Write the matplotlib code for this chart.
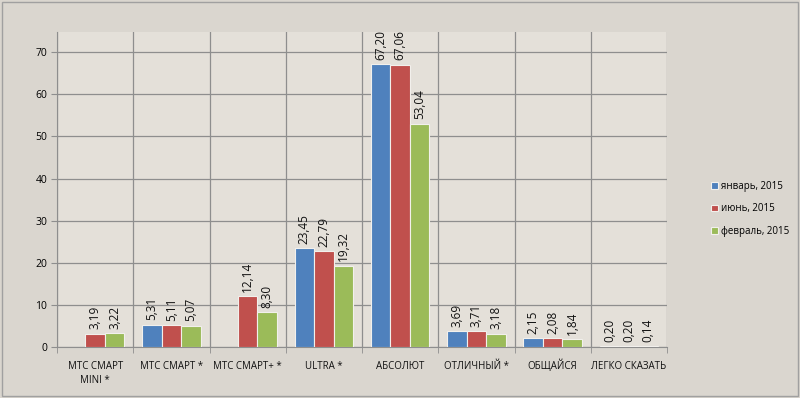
import numpy as np
import matplotlib
matplotlib.use("Agg")
import matplotlib.pyplot as plt

plt.rcParams['font.family'] = ['Open Sans', 'DejaVu Sans']

categories = ["МТС СМАРТ\nMINI *", "МТС СМАРТ *", "МТС СМАРТ+ *", "ULTRA *",
              "АБСОЛЮТ", "ОТЛИЧНЫЙ *", "ОБЩАЙСЯ", "ЛЕГКО СКАЗАТЬ"]
series_names = ["январь, 2015", "июнь, 2015", "февраль, 2015"]
jan = [np.nan, 5.31, np.nan, 23.45, 67.20, 3.69, 2.15, 0.20]
jun = [3.19, 5.11, 12.14, 22.79, 67.06, 3.71, 2.08, 0.20]
feb = [3.22, 5.07, 8.30, 19.32, 53.04, 3.18, 1.84, 0.14]
colors = ["#4F81BD", "#C0504D", "#9BBB59"]
yticks = [0, 10, 20, 30, 40, 50, 60, 70]

fig = plt.figure(figsize=(8, 3.98), dpi=100, facecolor="#DAD6CF")
ax = fig.add_axes([57/800, 1-347/398, (667-57)/800, (347-32)/398])
ax.set_facecolor("#E4E0D9")

x = np.arange(len(categories))
w = 0.255
for i, (vals, c, name) in enumerate(zip([jan, jun, feb], colors, series_names)):
    pos = x + (i - 1) * w
    ax.bar(pos, vals, width=w, color=c, edgecolor="#F2F0EC", linewidth=0.8,
           label=name, zorder=3)
    for p, v in zip(pos, vals):
        if np.isnan(v):
            continue
        ax.annotate(f"{v:.2f}".replace(".", ","), (p, v), xytext=(0, 3),
                    textcoords="offset points", rotation=90, ha="center",
                    va="bottom", fontsize=8.5, color="#111111")

ax.set_xlim(-0.5, len(categories) - 0.5)
ax.set_ylim(0, 74.8)
ax.set_yticks(yticks)
ax.set_yticklabels([str(t) for t in yticks], fontsize=7.5)
ax.set_xticks(x)
ax.set_xticklabels([""] * len(categories))
# category labels placed on a common baseline
for xi, lab in zip(x, categories):
    for j, line in enumerate(lab.split("\n")):
        ax.annotate(line, (xi, 0), xycoords=ax.get_xaxis_transform(),
                    xytext=(0, -15.8 - 10.1 * j), textcoords="offset points",
                    ha="center", va="baseline", fontsize=7, color="#111111")
ax.set_xticks(np.arange(-0.5, len(categories)), minor=True)
ax.tick_params(axis="x", which="major", length=0)
ax.tick_params(axis="x", which="minor", length=4, color="#8E8E8E")
ax.tick_params(axis="y", length=4, color="#8E8E8E", pad=3)
ax.grid(axis="y", color="#8E8E8E", linewidth=0.9, zorder=0)
ax.grid(axis="x", which="minor", color="#8E8E8E", linewidth=0.9, zorder=0)
for s in ["top", "right"]:
    ax.spines[s].set_visible(False)
for s in ["left", "bottom"]:
    ax.spines[s].set_color("#8E8E8E")

fig.legend(loc="upper left", bbox_to_anchor=(702/800, 1-172/398), frameon=False,
           fontsize=7, handlelength=0.7, handleheight=0.7, handletextpad=0.4,
           labelspacing=1.2)

fig.patches.append(plt.Rectangle((0.002, 0.004), 0.996, 0.992, transform=fig.transFigure,
                                 fill=False, edgecolor="#A0A0A0", linewidth=1))
fig.savefig("out.png", dpi=100, facecolor=fig.get_facecolor())
